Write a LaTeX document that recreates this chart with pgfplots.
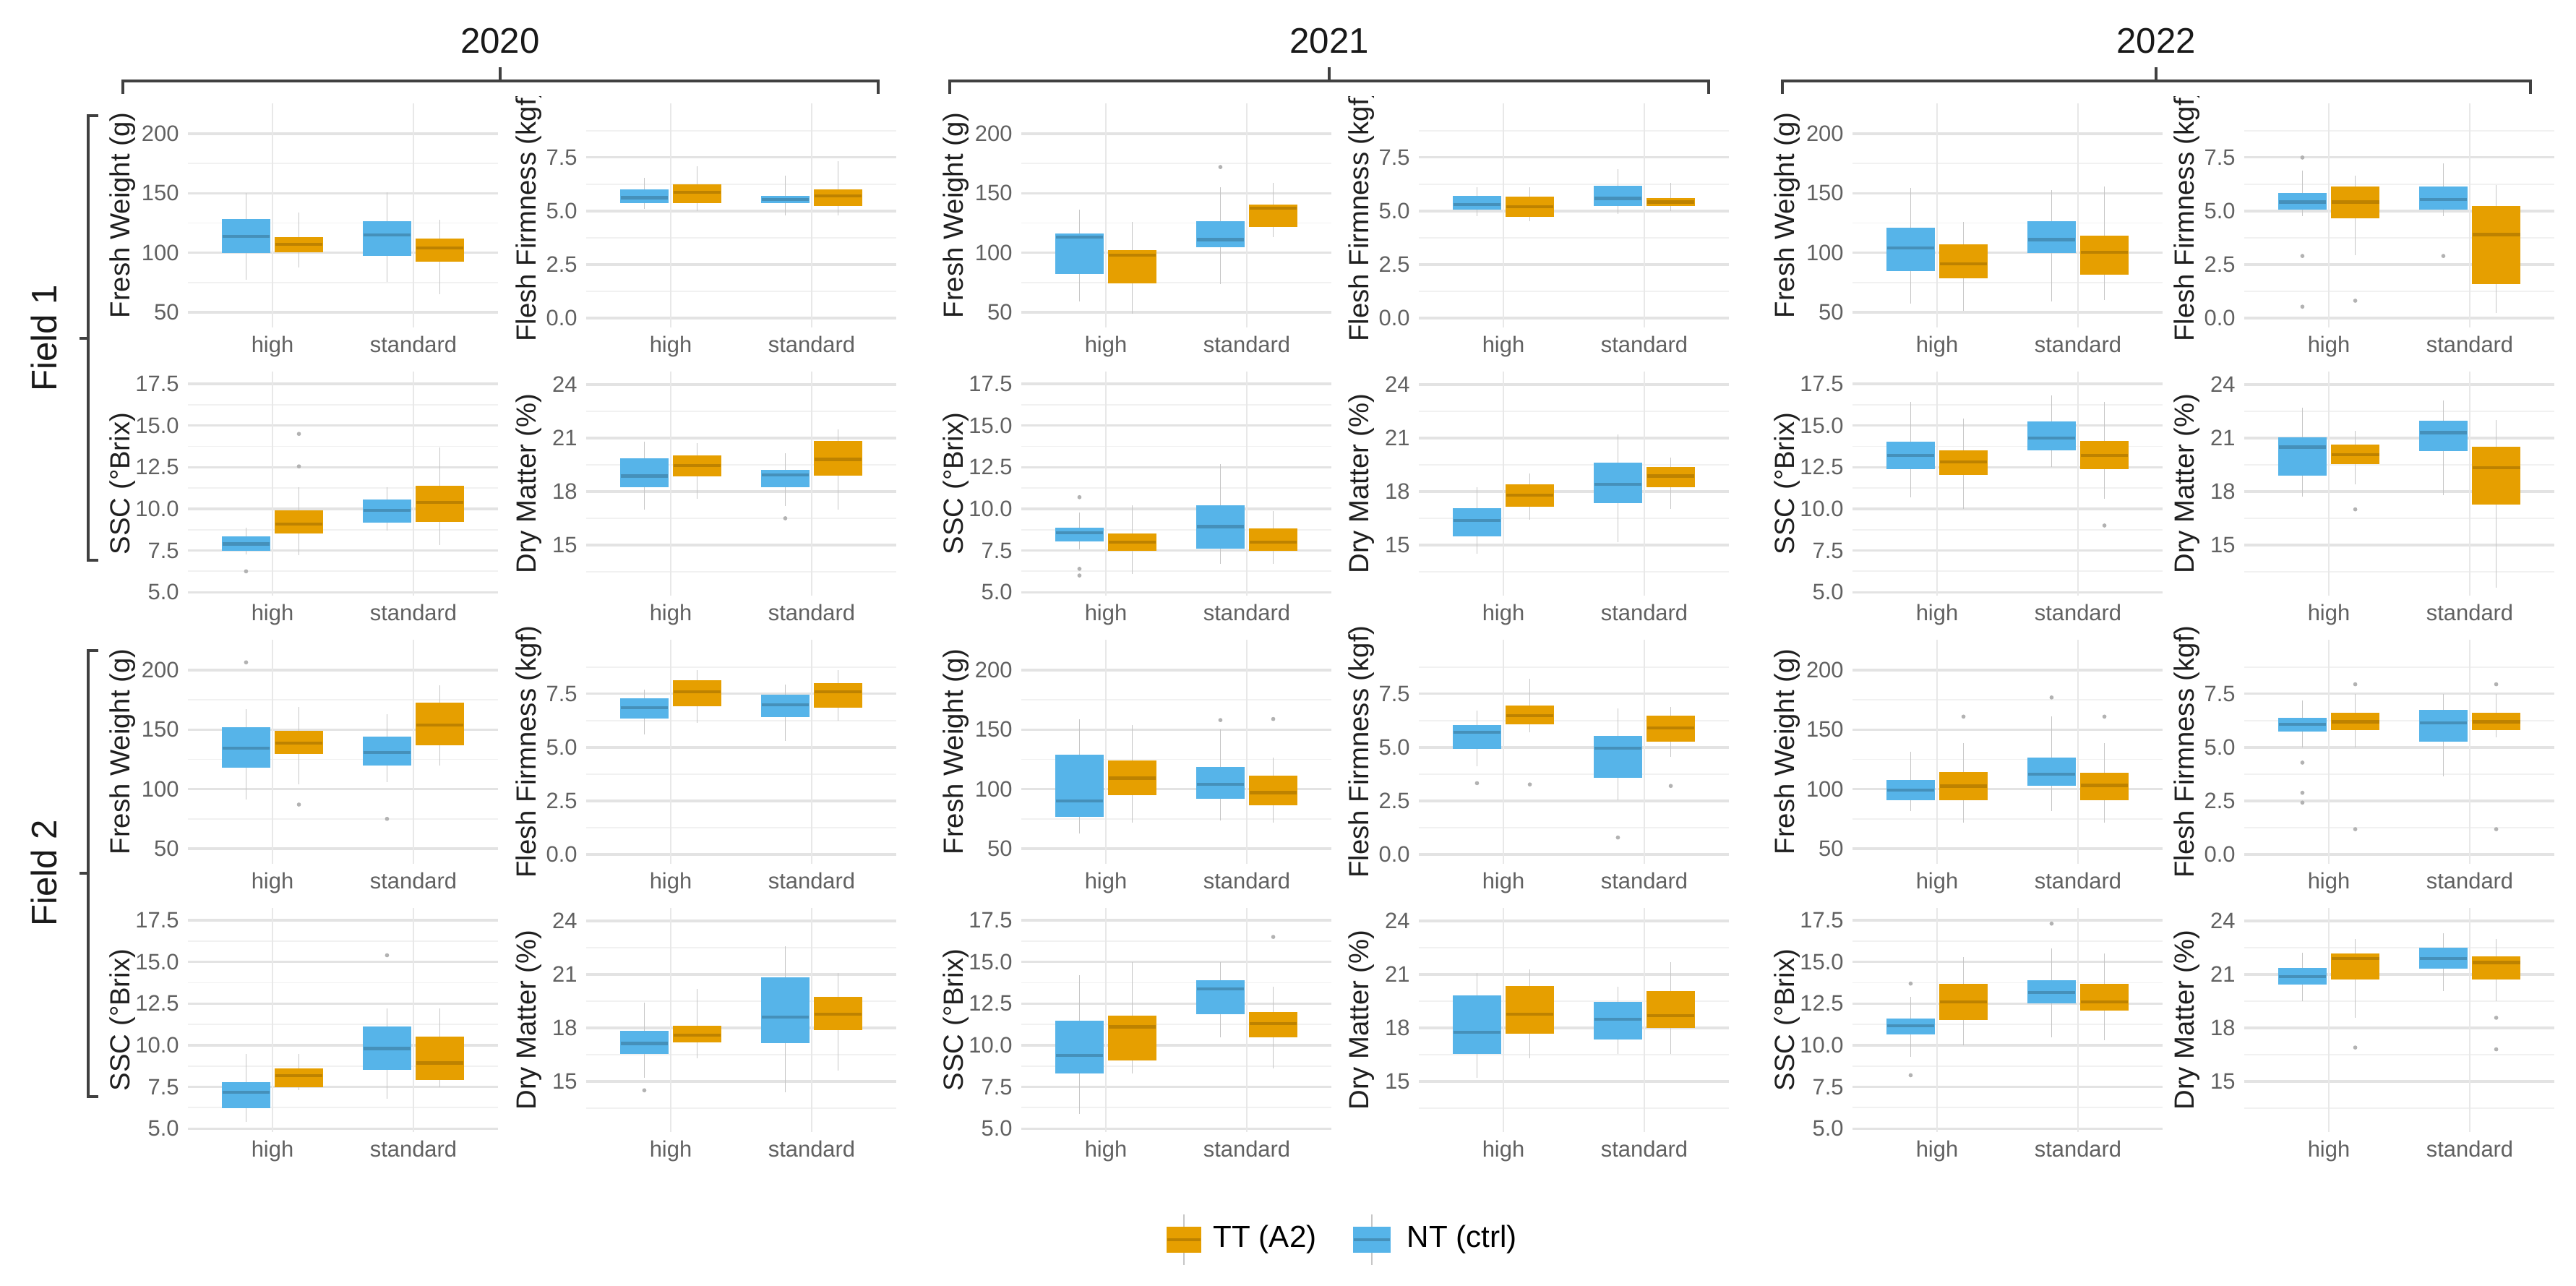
\documentclass[border=0pt]{standalone}
\usepackage{fontspec}
\setmainfont{Liberation Sans}
\usepackage{pgfplots}
\pgfplotsset{compat=1.18}
\usepgfplotslibrary{statistics}

\definecolor{ntc}{HTML}{56B4E9}
\definecolor{ttc}{HTML}{E69F00}

\pgfplotsset{
  panel/.style={
    scale only axis, width=42.9mm, height=31mm, anchor=north west,
    xmin=0.4, xmax=2.6, xtick=\empty,
    extra x ticks={1,2}, extra x tick labels={high,standard},
    extra x tick style={xmajorgrids=true, major grid style={draw=gray!18, line width=0.6pt}},
    ymajorgrids, yminorgrids,
    major grid style={draw=gray!22, line width=0.9pt},
    minor grid style={draw=gray!11, line width=0.5pt},
    axis line style={draw=none},
    major tick length=0pt, minor tick length=0pt,
    tick label style={font=\fontsize{8.8}{10}\selectfont, text=black!62},
    /pgf/number format/assume math mode=true,
    ylabel style={font=\fontsize{10.9}{12}\selectfont, text=black!88, anchor=center,
      at={(axis description cs:-0.21,0.5)}},
  },
  rcol/.style={ylabel style={at={(axis description cs:-0.186,0.5)}}},
  onedec/.style={yticklabel style={/pgf/number format/fixed, /pgf/number format/fixed zerofill, /pgf/number format/precision=1}},
  fw/.style={ymin=37.2, ymax=225.5, ytick={50,100,150,200}, minor ytick={75,125,175}, ylabel={Fresh Weight (g)}},
  ff/.style={ymin=-0.44, ymax=10.03, ytick={0,2.5,5,7.5}, minor ytick={1.25,3.75,6.25,8.75}, onedec, ylabel={Flesh Firmness (kgf)}},
  ssc/.style={ymin=4.79, ymax=18.24, ytick={5,7.5,10,12.5,15,17.5}, minor ytick={6.25,8.75,11.25,13.75,16.25}, onedec, ylabel={SSC (°Brix)}},
  dm/.style={ymin=12.16, ymax=24.73, ytick={15,18,21,24}, minor ytick={13.5,16.5,19.5,22.5}, ylabel={Dry Matter (\%)}},
  ntb/.style={mark=*, mark size=0.6pt, mark options={draw=gray!60, fill=gray!60},
    boxplot/draw direction=y,
    boxplot/box extend=0.3375, boxplot/whisker extend=0,
    boxplot/every box/.style={draw=ntc, fill=ntc, line width=0.3pt},
    boxplot/every whisker/.style={draw=gray!45, line width=0.45pt},
    boxplot/every median/.style={draw=ntc!80!black, line width=1.2pt}},
  ttb/.style={mark=*, mark size=0.6pt, mark options={draw=gray!60, fill=gray!60},
    boxplot/draw direction=y,
    boxplot/box extend=0.3375, boxplot/whisker extend=0,
    boxplot/every box/.style={draw=ttc, fill=ttc, line width=0.3pt},
    boxplot/every whisker/.style={draw=gray!45, line width=0.45pt},
    boxplot/every median/.style={draw=ttc!82!black, line width=1.2pt}},
}

% style, position, lower whisker, Q1, median, Q3, upper whisker, outliers
\newcommand\bx[8]{\addplot[#1, boxplot prepared={draw position=#2, lower whisker=#3,
  lower quartile=#4, median=#5, upper quartile=#6, upper whisker=#7}] coordinates {#8};}
\newcommand\hN[6]{\bx{ntb}{0.8125}{#1}{#2}{#3}{#4}{#5}{#6}}
\newcommand\hT[6]{\bx{ttb}{1.1875}{#1}{#2}{#3}{#4}{#5}{#6}}
\newcommand\sN[6]{\bx{ntb}{1.8125}{#1}{#2}{#3}{#4}{#5}{#6}}
\newcommand\sT[6]{\bx{ttb}{2.1875}{#1}{#2}{#3}{#4}{#5}{#6}}

\begin{document}
\begin{tikzpicture}
\useasboundingbox (0,0) rectangle (356.4mm,-177.9mm);

% ================= 2020 =================
\begin{axis}[panel, fw, at={(26.0mm,-14.3mm)}]
\hN{77.5}{99.8}{113.6}{128.1}{150}{}
\hT{87.7}{100.8}{106.9}{113}{134}{}
\sN{75.5}{97.8}{115}{126}{151}{}
\sT{65}{92.7}{103.9}{111.3}{128}{}
\end{axis}
\begin{axis}[panel, ff, rcol, at={(81.1mm,-14.3mm)}]
\hN{5.1}{5.37}{5.62}{5.98}{6.54}{}
\hT{5.0}{5.37}{5.87}{6.23}{7.1}{}
\sN{4.8}{5.37}{5.53}{5.70}{6.66}{}
\sT{4.8}{5.25}{5.7}{5.98}{7.33}{}
\end{axis}
\begin{axis}[panel, ssc, at={(26.0mm,-51.4mm)}]
\hN{7.26}{7.5}{7.89}{8.31}{8.86}{(0,6.25)}
\hT{7.2}{8.53}{9.08}{9.9}{11.3}{(0,12.55) (0,14.5)}
\sN{8.7}{9.2}{9.9}{10.54}{11.3}{}
\sT{7.84}{9.24}{10.38}{11.37}{13.7}{}
\end{axis}
\begin{axis}[panel, dm, rcol, at={(81.1mm,-51.4mm)}]
\hN{17.0}{18.26}{18.87}{19.85}{20.8}{}
\hT{17.6}{18.87}{19.47}{20.0}{20.7}{}
\sN{17.2}{18.26}{18.93}{19.18}{20.15}{(0,16.5)}
\sT{17.0}{18.93}{19.8}{20.8}{21.5}{}
\end{axis}
\begin{axis}[panel, fw, at={(26.0mm,-88.5mm)}]
\hN{91}{118.4}{134.5}{151.8}{167}{(0,206.5)}
\hT{104}{129.6}{138.6}{148.8}{169}{(0,87)}
\sN{106}{120.4}{130.9}{143.7}{163}{(0,75)}
\sT{120}{136.9}{153.8}{172.4}{187}{}
\end{axis}
\begin{axis}[panel, ff, rcol, at={(81.1mm,-88.5mm)}]
\hN{5.6}{6.37}{6.85}{7.27}{7.7}{}
\hT{6.15}{6.94}{7.61}{8.12}{8.6}{}
\sN{5.3}{6.43}{6.99}{7.44}{7.95}{}
\sT{6.26}{6.88}{7.61}{8.0}{8.6}{}
\end{axis}
\begin{axis}[panel, ssc, at={(26.0mm,-125.6mm)}]
\hN{5.39}{6.24}{7.17}{7.74}{9.46}{}
\hT{7.3}{7.49}{8.17}{8.6}{9.46}{}
\sN{6.8}{8.53}{9.8}{11.1}{12.2}{(0,15.4)}
\sT{7.5}{7.92}{8.93}{10.5}{12.2}{}
\end{axis}
\begin{axis}[panel, dm, rcol, at={(81.1mm,-125.6mm)}]
\hN{15.2}{16.55}{17.13}{17.83}{19.4}{(0,14.5)}
\hT{16.3}{17.2}{17.6}{18.1}{20.2}{}
\sN{14.4}{17.16}{18.6}{20.8}{22.6}{}
\sT{15.6}{17.9}{18.78}{19.72}{21.1}{}
\end{axis}

% ================= 2021 =================
\begin{axis}[panel, fw, at={(141.3mm,-14.3mm)}]
\hN{59}{82.6}{113}{116}{136}{}
\hT{49}{74.5}{97.8}{101.6}{126}{}
\sN{73.5}{104.9}{111}{126}{155}{(0,172)}
\sT{113}{122}{137.3}{140.3}{158.5}{}
\end{axis}
\begin{axis}[panel, ff, rcol, at={(196.3mm,-14.3mm)}]
\hN{4.75}{5.08}{5.31}{5.70}{6.1}{}
\hT{4.52}{4.75}{5.2}{5.65}{6.1}{}
\sN{4.86}{5.25}{5.59}{6.15}{6.94}{}
\sT{5.0}{5.25}{5.42}{5.59}{6.32}{}
\end{axis}
\begin{axis}[panel, ssc, at={(141.3mm,-51.4mm)}]
\hN{7.56}{8.07}{8.57}{8.86}{9.8}{(0,10.7) (0,6.4) (0,6.0)}
\hT{6.1}{7.49}{7.99}{8.5}{10.2}{}
\sN{6.7}{7.63}{8.93}{10.2}{12.7}{}
\sT{6.7}{7.49}{7.99}{8.79}{9.87}{}
\end{axis}
\begin{axis}[panel, dm, rcol, at={(196.3mm,-51.4mm)}]
\hN{14.5}{15.49}{16.39}{17.04}{18.26}{}
\hT{16.4}{17.18}{17.79}{18.39}{19.0}{}
\sN{15.15}{17.38}{18.39}{19.61}{21.2}{}
\sT{17.04}{18.26}{18.87}{19.34}{19.9}{}
\end{axis}
\begin{axis}[panel, fw, at={(141.3mm,-88.5mm)}]
\hN{62.6}{76.8}{89.9}{128.4}{158.9}{}
\hT{71.7}{95}{109.2}{124}{153.8}{}
\sN{73.7}{92}{104.1}{118.3}{150}{(0,158)}
\sT{71.7}{86.9}{97}{111.2}{126.4}{(0,158.9)}
\end{axis}
\begin{axis}[panel, ff, rcol, at={(196.3mm,-88.5mm)}]
\hN{4.12}{4.96}{5.7}{6.03}{6.71}{(0,3.33)}
\hT{5.7}{6.09}{6.48}{6.94}{8.2}{(0,3.27)}
\sN{2.54}{3.61}{4.96}{5.53}{6.82}{(0,0.79)}
\sT{4.57}{5.3}{5.92}{6.48}{6.88}{(0,3.2)}
\end{axis}
\begin{axis}[panel, ssc, at={(141.3mm,-125.6mm)}]
\hN{5.88}{8.31}{9.38}{11.46}{14.2}{}
\hT{8.31}{9.1}{11.1}{11.77}{15.0}{}
\sN{10.46}{11.88}{13.39}{13.86}{15.0}{}
\sT{8.6}{10.5}{11.3}{11.96}{13.5}{(0,16.5)}
\end{axis}
\begin{axis}[panel, dm, rcol, at={(196.3mm,-125.6mm)}]
\hN{15.2}{16.55}{17.76}{19.79}{21.1}{}
\hT{16.3}{17.7}{18.78}{20.33}{21.3}{}
\sN{16.55}{17.36}{18.5}{19.45}{20.3}{}
\sT{16.55}{18.03}{18.7}{20.06}{21.7}{}
\end{axis}

% ================= 2022 =================
\begin{axis}[panel, fw, at={(256.3mm,-14.3mm)}]
\hN{57.3}{84.6}{103.9}{121}{154.5}{}
\hT{51}{78.6}{90.7}{106.5}{126}{}
\sN{59.3}{99.8}{111}{126.1}{152.4}{}
\sT{60.3}{81.6}{100.2}{114}{155.5}{}
\end{axis}
\begin{axis}[panel, ff, rcol, at={(310.5mm,-14.3mm)}]
\hN{4.75}{5.08}{5.42}{5.81}{6.9}{(0,7.5) (0,2.9) (0,0.53)}
\hT{2.95}{4.69}{5.42}{6.12}{6.66}{(0,0.81)}
\sN{4.75}{5.08}{5.53}{6.12}{7.22}{(0,2.9)}
\sT{0.25}{1.6}{3.9}{5.2}{6.2}{}
\end{axis}
\begin{axis}[panel, ssc, at={(256.3mm,-51.4mm)}]
\hN{10.7}{12.4}{13.2}{14.0}{16.4}{}
\hT{10.0}{12.04}{12.8}{13.5}{15.4}{}
\sN{12.5}{13.52}{14.24}{15.23}{16.8}{}
\sT{10.6}{12.4}{13.2}{14.07}{16.4}{(0,9.0)}
\end{axis}
\begin{axis}[panel, dm, rcol, at={(310.5mm,-51.4mm)}]
\hN{17.7}{18.93}{20.49}{21.03}{22.7}{}
\hT{18.4}{19.58}{20.08}{20.62}{21.4}{(0,17.0)}
\sN{17.8}{20.28}{21.3}{21.97}{23.1}{}
\sT{12.6}{17.31}{19.34}{20.49}{22.0}{}
\end{axis}
\begin{axis}[panel, fw, at={(256.3mm,-88.5mm)}]
\hN{81.8}{90.9}{99}{107.2}{131.5}{}
\hT{71.7}{90.9}{102.5}{114.3}{138.6}{(0,160.9)}
\sN{81.8}{103.1}{112.6}{126.4}{161}{(0,177)}
\sT{71.7}{90.9}{103.1}{113.2}{138.6}{(0,160.9)}
\end{axis}
\begin{axis}[panel, ff, rcol, at={(310.5mm,-88.5mm)}]
\hN{5.0}{5.75}{6.09}{6.37}{7.2}{(0,4.29) (0,2.88) (0,2.42)}
\hT{5.0}{5.81}{6.2}{6.6}{7.5}{(0,7.95) (0,1.18)}
\sN{3.66}{5.3}{6.15}{6.73}{7.5}{}
\sT{5.47}{5.84}{6.2}{6.6}{7.5}{(0,7.95) (0,1.18)}
\end{axis}
\begin{axis}[panel, ssc, at={(256.3mm,-125.6mm)}]
\hN{9.3}{10.67}{11.17}{11.6}{12.9}{(0,13.7) (0,8.2)}
\hT{10.0}{11.53}{12.6}{13.67}{15.3}{}
\sN{10.46}{12.53}{13.17}{13.86}{15.8}{(0,17.3)}
\sT{10.3}{12.1}{12.6}{13.67}{15.5}{}
\end{axis}
\begin{axis}[panel, dm, rcol, at={(310.5mm,-125.6mm)}]
\hN{19.5}{20.46}{20.87}{21.34}{22.2}{}
\hT{18.57}{20.73}{21.88}{22.15}{23.0}{(0,16.9)}
\sN{20.06}{21.34}{21.88}{22.48}{23.3}{}
\sT{19.5}{20.73}{21.67}{22.0}{23.0}{(0,16.8) (0,18.57)}
\end{axis}

% header strip (clips the top of the first-row labels)
\fill[white] (0,0) rectangle (356.4mm,-13.3mm);

% year brackets
\begin{scope}[black!75, line width=1.2pt]
\draw (17.0mm,-13.0mm) -- (17.0mm,-11.2mm) -- (121.5mm,-11.2mm) -- (121.5mm,-13.0mm);
\draw (69.2mm,-11.2mm) -- (69.2mm,-9.3mm);
\draw (131.4mm,-13.0mm) -- (131.4mm,-11.2mm) -- (236.4mm,-11.2mm) -- (236.4mm,-13.0mm);
\draw (183.9mm,-11.2mm) -- (183.9mm,-9.3mm);
\draw (246.6mm,-13.0mm) -- (246.6mm,-11.2mm) -- (350.1mm,-11.2mm) -- (350.1mm,-13.0mm);
\draw (298.3mm,-11.2mm) -- (298.3mm,-9.3mm);
% field brackets
\draw (13.6mm,-16.0mm) -- (12.2mm,-16.0mm) -- (12.2mm,-77.5mm) -- (13.6mm,-77.5mm);
\draw (12.2mm,-46.8mm) -- (11.0mm,-46.8mm);
\draw (13.6mm,-90.0mm) -- (12.2mm,-90.0mm) -- (12.2mm,-151.7mm) -- (13.6mm,-151.7mm);
\draw (12.2mm,-120.8mm) -- (11.0mm,-120.8mm);
\end{scope}

\begin{scope}[every node/.style={font=\fontsize{14}{16}\selectfont, text=black!90}]
\node at (69.2mm,-5.7mm) {2020};
\node at (183.9mm,-5.7mm) {2021};
\node at (298.3mm,-5.7mm) {2022};
\node[rotate=90] at (6.1mm,-46.8mm) {Field 1};
\node[rotate=90] at (6.1mm,-120.8mm) {Field 2};
\end{scope}

% legend
\draw[gray!45, line width=0.45pt] (163.8mm,-168.0mm) -- (163.8mm,-175.0mm);
\filldraw[fill=ttc, draw=ttc, line width=0.3pt] (161.5mm,-169.8mm) rectangle (166.1mm,-173.2mm);
\draw[ttc!82!black, line width=1.2pt] (161.5mm,-171.5mm) -- (166.1mm,-171.5mm);
\node[anchor=west, inner sep=0pt, font=\fontsize{12}{14}\selectfont] at (167.8mm,-171.5mm) {TT (A2)};
\draw[gray!45, line width=0.45pt] (189.8mm,-168.0mm) -- (189.8mm,-175.0mm);
\filldraw[fill=ntc, draw=ntc, line width=0.3pt] (187.3mm,-169.8mm) rectangle (192.3mm,-173.2mm);
\draw[ntc!80!black, line width=1.2pt] (187.3mm,-171.5mm) -- (192.3mm,-171.5mm);
\node[anchor=west, inner sep=0pt, font=\fontsize{12}{14}\selectfont] at (194.6mm,-171.5mm) {NT (ctrl)};
\end{tikzpicture}
\end{document}
